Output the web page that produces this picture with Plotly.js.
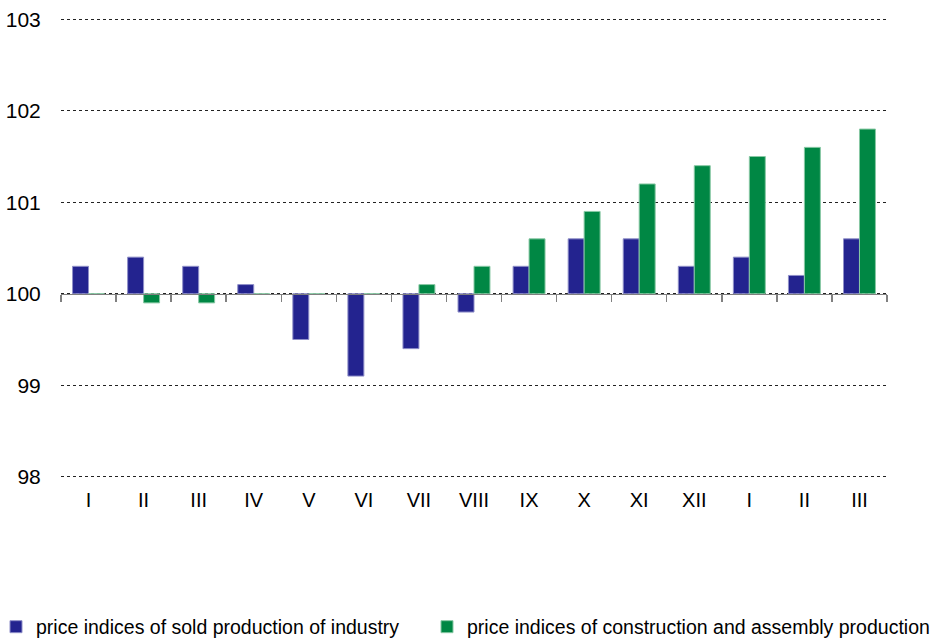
<!DOCTYPE html>
<html>
<head>
<meta charset="utf-8">
<script src="https://cdn.plot.ly/plotly-3.0.1.min.js"></script>
<style>html,body{margin:0;padding:0;background:#fff;}#chart{width:936px;height:644px;}</style>
</head>
<body>
<div id="chart"></div>
<script>
var months = ["I","II","III","IV","V","VI","VII","VIII","IX","X","XI","XII","I","II","III"];
var industry = [100.3,100.4,100.3,100.1,99.5,99.1,99.4,99.8,100.3,100.6,100.6,100.3,100.4,100.2,100.6];
var construction = [100.0,99.9,99.9,100.0,100.0,100.0,100.1,100.3,100.6,100.9,101.2,101.4,101.5,101.6,101.8];
var seriesNames = ["price indices of sold production of industry","price indices of construction and assembly production"];
var yTicks = [98,99,100,101,102,103];
var baseLevel = 100;

var idx = months.map(function(_, i){ return i; });
var bounds = months.map(function(_, i){ return i - 0.5; }).concat([months.length - 0.5]);
var yRange = [97.975, 103.025];

function rel(arr){ return arr.map(function(v){ return +(v - baseLevel).toFixed(3); }); }

var traces = [
  {type:'bar', x: idx, y: rel(industry), base: baseLevel, name: seriesNames[0], legend:'legend',
   marker:{color:'#23238f', line:{color:'#8f8fc8', width:1}}, customdata: industry,
   hovertemplate:'%{customdata}<extra></extra>'},
  {type:'bar', x: idx, y: rel(construction), base: baseLevel, name: seriesNames[1], legend:'legend2',
   marker:{color:'#008744', line:{color:'#88c8a4', width:1}}, customdata: construction,
   hovertemplate:'%{customdata}<extra></extra>'},
  {type:'scatter', x:[], y:[], xaxis:'x2', showlegend:false, hoverinfo:'skip'}
];

var legendY = -148/462;
var layout = {
  width:936, height:644,
  margin:{l:61, r:49, t:17, b:165, autoexpand:false},
  paper_bgcolor:'#fff', plot_bgcolor:'#fff',
  font:{family:'Liberation Sans, Arial, sans-serif', color:'#000', size:19.5},
  barmode:'group', bargap:0.42, bargroupgap:0,
  showlegend:true,
  legend:{orientation:'h', x:-65/826, xanchor:'left', y:legendY, yanchor:'middle',
          font:{size:19.5}, itemwidth:30, bgcolor:'rgba(0,0,0,0)'},
  legend2:{orientation:'h', x:366/826, xanchor:'left', y:legendY, yanchor:'middle',
          font:{size:19.5}, itemwidth:30, bgcolor:'rgba(0,0,0,0)'},
  xaxis:{range:[-0.5, months.length - 0.5], tickmode:'array', tickvals: idx, ticktext: months,
         showgrid:false, zeroline:false, showline:false, ticks:'outside', ticklen:3,
         tickcolor:'rgba(0,0,0,0)', tickfont:{size:20}, fixedrange:true},
  xaxis2:{overlaying:'x', anchor:'free', position:(baseLevel-yRange[0])/(yRange[1]-yRange[0]), side:'bottom',
          range:[-0.5, months.length - 0.5], tickmode:'array', tickvals: bounds,
          showticklabels:false, ticks:'outside', ticklen:7, tickwidth:1.5, tickcolor:'#808080',
          showline:true, linecolor:'#808080', linewidth:1.5, showgrid:false, zeroline:false},
  yaxis:{range:yRange, tickmode:'array', tickvals:yTicks, ticktext:yTicks.map(String),
         showgrid:true, gridcolor:'#222', griddash:'dot', gridwidth:1, zeroline:false,
         showline:false, ticks:'outside', ticklen:15, tickcolor:'rgba(0,0,0,0)',
         tickfont:{size:21}, fixedrange:true}
};

Plotly.newPlot('chart', traces, layout, {displayModeBar:false, staticPlot:true});
</script>
</body>
</html>
